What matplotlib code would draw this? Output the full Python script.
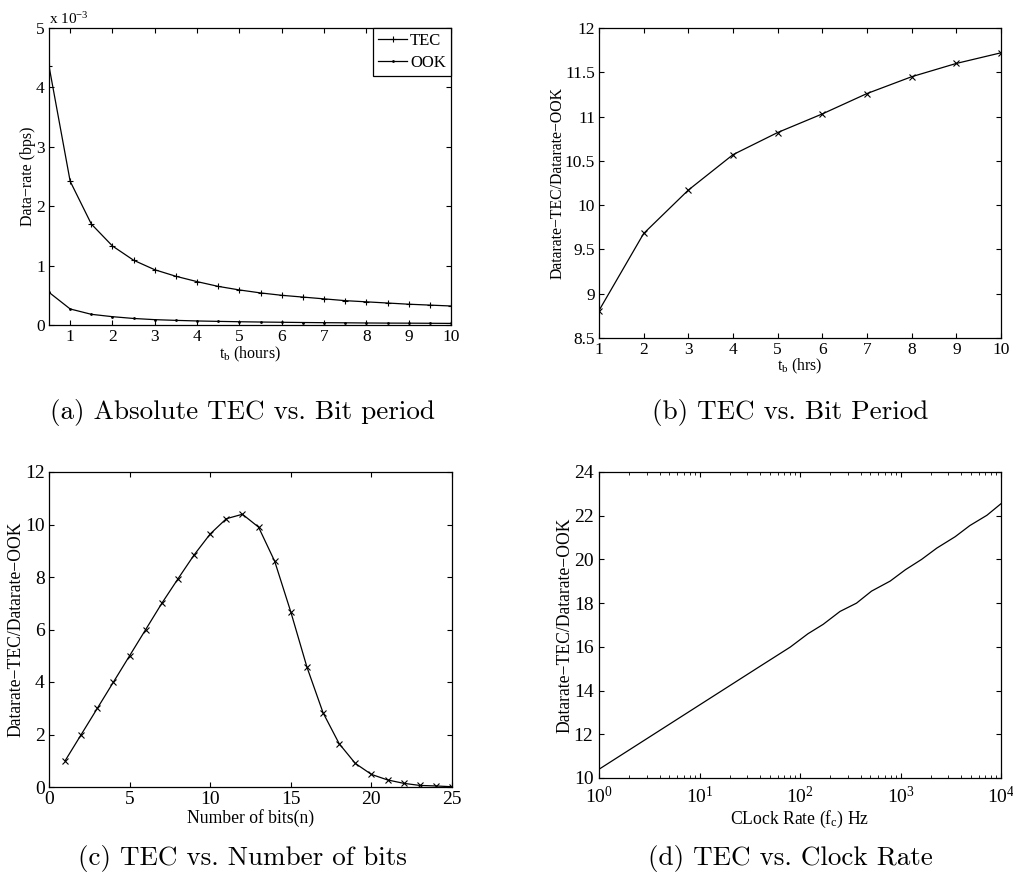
import numpy as np
import matplotlib
matplotlib.use('Agg')
import matplotlib.pyplot as plt

plt.rcParams['font.family'] = 'serif'
plt.rcParams['font.serif'] = ['Liberation Serif', 'DejaVu Serif']
plt.rcParams['mathtext.fontset'] = 'custom'
plt.rcParams['mathtext.rm'] = 'Liberation Serif'
plt.rcParams['mathtext.it'] = 'Liberation Serif:italic'
plt.rcParams['xtick.direction'] = 'in'
plt.rcParams['ytick.direction'] = 'in'
plt.rcParams['xtick.top'] = True
plt.rcParams['ytick.right'] = True
plt.rcParams['axes.linewidth'] = 0.9
plt.rcParams['xtick.major.size'] = 3.5
plt.rcParams['ytick.major.size'] = 3.5
plt.rcParams['xtick.minor.size'] = 2
plt.rcParams['ytick.minor.size'] = 2

# (a) absolute data-rate vs bit period
tb_a = [0.5, 1, 1.5, 2, 2.5, 3, 3.5, 4, 4.5, 5, 5.5, 6, 6.5, 7, 7.5, 8, 8.5, 9, 9.5, 10]
tec_a = [4.36, 2.42, 1.70, 1.33, 1.09, 0.93, 0.82, 0.73, 0.65, 0.59, 0.54, 0.50,
         0.47, 0.44, 0.41, 0.39, 0.37, 0.35, 0.335, 0.32]
ook_a = [0.55, 0.27, 0.18, 0.14, 0.11, 0.09, 0.078, 0.068, 0.061, 0.055, 0.050, 0.046,
         0.042, 0.039, 0.037, 0.034, 0.032, 0.031, 0.029, 0.027]

# (b) ratio vs bit period
tb_b = [1, 2, 3, 4, 5, 6, 7, 8, 9, 10]
ratio_b = [8.81, 9.68, 10.17, 10.57, 10.82, 11.03, 11.26, 11.45, 11.60, 11.72]

# (c) ratio vs number of bits
nbits = list(range(1, 26))
ratio_c = [1, 2, 3, 4, 5, 6, 7, 7.93, 8.84, 9.64, 10.22, 10.39, 9.9, 8.6, 6.67,
           4.57, 2.83, 1.65, 0.90, 0.48, 0.27, 0.14, 0.06, 0.04, 0.01]

# (d) ratio vs clock rate
fc = [1, 40, 80, 120, 170, 250, 365, 515, 790, 1120, 1620, 2300, 3500, 4900, 7240, 10000]
ratio_d = [10.40, 15.11, 15.99, 16.6, 17.03, 17.62, 18.0, 18.55, 19.01, 19.53, 20.0,
           20.52, 21.04, 21.55, 22.02, 22.55]

W, H = 1013, 875
fig = plt.figure(figsize=(W / 100, H / 100), dpi=100)


def box(l, t, r, b):
    return [l / W, 1 - b / H, (r - l) / W, (b - t) / H]


def labels(ax, xl, yl, xy, yx, size):
    ax.set_xlabel(xl, fontsize=size)
    ax.xaxis.set_label_coords(0.5, xy)
    ax.xaxis.label.set_va('top')
    ax.set_ylabel(yl, fontsize=size)
    ax.yaxis.set_label_coords(yx, 0.5)
    ax.yaxis.label.set_va('center')


ylab = 'Datarate\u2212TEC/Datarate\u2212OOK'
cap = dict(fontfamily='cmr10', fontsize=19.5, ha='center', va='center')

# ---- (a)
ax = fig.add_axes(box(49, 28, 451, 325))
ax.plot(tb_a, np.array(tec_a) * 1e-3, 'k-', marker='+', ms=5, mew=0.8, lw=0.9, label='TEC')
ax.plot(tb_a, np.array(ook_a) * 1e-3, 'k-', marker='.', ms=2, lw=0.9, label='OOK')
ax.set_xlim(0.5, 10)
ax.set_ylim(0, 5e-3)
ax.set_xticks(range(1, 11))
ax.set_yticks(np.arange(0, 6) * 1e-3)
ax.set_yticklabels([str(i) for i in range(6)])
ax.tick_params(labelsize=12.5, pad=3)
ax.text(0.0, 1.005, r'x 10$^{-3}$', transform=ax.transAxes, fontsize=11, va='bottom')
labels(ax, r'$\mathrm{t_b}$ (hours)', 'Data\u2212rate (bps)', -0.066, -0.052, 11.5)
leg = ax.legend(loc='upper right', fontsize=12, fancybox=False, edgecolor='k',
                borderaxespad=0, handlelength=1.7, handletextpad=0.2, borderpad=0.3,
                labelspacing=0.35, framealpha=1)
leg.get_frame().set_linewidth(0.9)
fig.text(242 / W, 1 - 412 / H, '(a) Absolute TEC vs. Bit period', **cap)

# ---- (b)
ax = fig.add_axes(box(599, 28, 1001, 338))
ax.plot(tb_b, ratio_b, 'k-', marker='x', ms=4, mew=0.8, lw=0.9)
ax.set_xlim(1, 10)
ax.set_ylim(8.5, 12)
ax.set_xticks(range(1, 11))
ax.set_yticks(np.arange(8.5, 12.01, 0.5))
ax.set_yticklabels(['8.5', '9', '9.5', '10', '10.5', '11', '11.5', '12'])
ax.tick_params(labelsize=12.5, pad=3)
labels(ax, r'$\mathrm{t_b}$ (hrs)', ylab, -0.062, -0.102, 11.3)
fig.text(790 / W, 1 - 412 / H, '(b) TEC vs. Bit Period', **cap)

# ---- (c)
ax = fig.add_axes(box(49, 472, 452, 787))
ax.plot(nbits, ratio_c, 'k-', marker='x', ms=4, mew=0.8, lw=0.9)
ax.set_xlim(0, 25)
ax.set_ylim(0, 12)
ax.set_xticks(range(0, 26, 5))
ax.set_yticks(range(0, 13, 2))
ax.tick_params(labelsize=14, pad=3)
labels(ax, 'Number of bits(n)', ylab, -0.07, -0.082, 12.7)
fig.text(242 / W, 1 - 858 / H, '(c) TEC vs. Number of bits', **cap)

# ---- (d)
ax = fig.add_axes(box(599, 472, 1001, 778))
ax.semilogx(fc, ratio_d, 'k-', lw=0.9)
ax.set_xlim(1, 1e4)
ax.set_ylim(10, 24)
ax.set_yticks(range(10, 25, 2))
ax.tick_params(labelsize=14, pad=4)
ax.tick_params(axis='x', pad=5.5)
labels(ax, r'CLock Rate ($\mathrm{f_c}$) Hz', ylab, -0.1, -0.085, 12.7)
fig.text(790 / W, 1 - 858 / H, '(d) TEC vs. Clock Rate', **cap)

fig.savefig('out.png', dpi=100)
